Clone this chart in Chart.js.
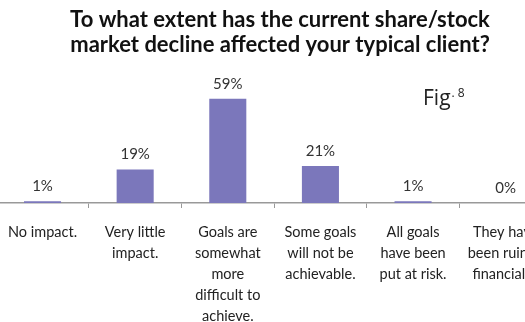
<!DOCTYPE html>
<html>
<head>
<meta charset="utf-8">
<script src="https://cdn.jsdelivr.net/npm/chart.js@4"></script>
<style>
  html, body { margin: 0; padding: 0; background: #fff; overflow: hidden; width: 525px; height: 322px; }
  #wrap { position: absolute; left: -6px; top: 0; }
</style>
</head>
<body>
<div id="wrap"><canvas id="c" width="572" height="322"></canvas></div>
<script>
const titleLines = ["To what extent has the current share/stock", "market decline affected your typical client?"];
const categories = [
  ["No impact."],
  ["Very little", "impact."],
  ["Goals are", "somewhat", "more", "difficult to", "achieve."],
  ["Some goals", "will not be", "achievable."],
  ["All goals", "have been", "put at risk."],
  ["They have", "been ruined", "financially."]
];
const values = [1, 19, 59, 21, 1, 0];
const valueLabels = ["1%", "19%", "59%", "21%", "1%", "0%"];
const figMain = "Fig";
const figSup = ". 8";

const OFFX = 6; // canvas shifted left by 6px

const overlay = {
  id: 'overlay',
  afterDatasetsDraw(chart) {
    const ctx = chart.ctx;
    const meta = chart.getDatasetMeta(0);
    ctx.save();
    ctx.fillStyle = '#333';
    ctx.font = '15px Lato';
    ctx.textAlign = 'center';
    ctx.textBaseline = 'middle';
    meta.data.forEach((bar, i) => {
      ctx.fillText(valueLabels[i], bar.x, bar.y - 15);
    });
    ctx.restore();
  },
  afterDraw(chart) {
    const ctx = chart.ctx;
    ctx.save();
    ctx.fillStyle = '#111';
    ctx.font = 'bold 22px Lato';
    ctx.textAlign = 'center';
    ctx.textBaseline = 'middle';
    ctx.fillText(titleLines[0], 280 + OFFX, 20);
    ctx.fillText(titleLines[1], 280 + OFFX, 45);
    ctx.fillStyle = '#222';
    ctx.textAlign = 'left';
    ctx.textBaseline = 'alphabetic';
    ctx.font = '21px "Open Sans"';
    ctx.fillText(figMain, 423 + OFFX, 105);
    const w = ctx.measureText(figMain).width;
    ctx.font = '12px "Open Sans"';
    ctx.fillText(figSup, 423 + OFFX + w + 1, 97);
    ctx.restore();
  }
};

new Chart(document.getElementById('c'), {
  type: 'bar',
  data: {
    labels: categories,
    datasets: [{
      data: values,
      backgroundColor: '#7b77bb',
      borderWidth: 0,
      categoryPercentage: 1,
      barPercentage: 0.4
    }]
  },
  options: {
    responsive: false,
    animation: false,
    devicePixelRatio: 1,
    layout: { padding: { top: 97, left: 0, right: 14, bottom: 0 } },
    plugins: { legend: { display: false }, title: { display: false }, tooltip: { enabled: false } },
    scales: {
      x: {
        grid: { display: true, drawOnChartArea: false, drawTicks: true, tickLength: 5, color: '#999', offset: true },
        border: { display: true, color: '#999', width: 1.5 },
        ticks: { color: '#222', font: { family: 'Lato', size: 14.5, lineHeight: 1.45 }, padding: 14, maxRotation: 0, autoSkip: false },
        afterFit(scale) { scale.height = 119; }
      },
      y: { display: false, min: 0, max: 60 }
    }
  },
  plugins: [overlay]
});
</script>
</body>
</html>
